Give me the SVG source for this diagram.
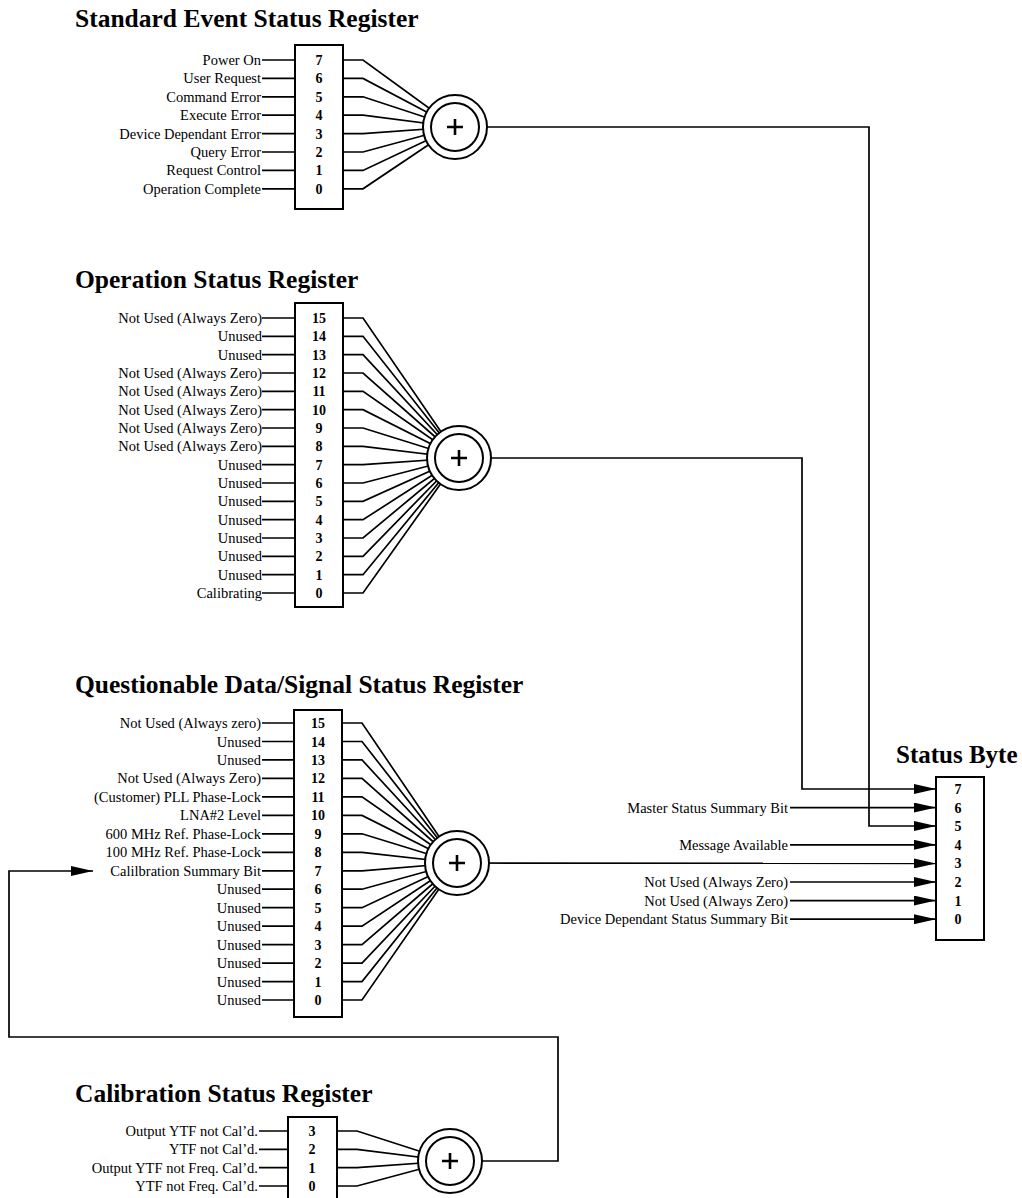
<svg xmlns="http://www.w3.org/2000/svg" width="1022" height="1198" viewBox="0 0 1022 1198">
<style>
.t{font-family:"Liberation Serif","Times New Roman",serif;font-weight:bold;font-size:25.5px;fill:#000}
.l{font-family:"Liberation Serif","Times New Roman",serif;font-size:14.5px;fill:#000;text-anchor:end}
.n{font-family:"Liberation Serif","Times New Roman",serif;font-weight:bold;font-size:14px;fill:#000;text-anchor:middle}
.b{fill:#fff;stroke:#000;stroke-width:2}
.w{fill:none;stroke:#000;stroke-width:1.7}
.c{fill:#fff;stroke:#000;stroke-width:2}
.p{fill:none;stroke:#000;stroke-width:2.6}
</style>
<defs>
<marker id="ah" viewBox="0 0 22 10" refX="22" refY="5" markerWidth="22" markerHeight="10" markerUnits="userSpaceOnUse" orient="auto"><path d="M0,0 L22,5 L0,10 Z" fill="#000"/></marker>
</defs>

<g id="connectors" class="w">
<polyline points="455,127 869,127 869,826 936,826" marker-end="url(#ah)"/>
<polyline points="459,458 802,458 802,789 936,789" marker-end="url(#ah)"/>
<polyline points="457,863 936,863.4" marker-end="url(#ah)"/>
<polyline points="450,1161 558,1161 558,1037 9,1037 9,871 93,871" marker-end="url(#ah)"/>
<line x1="790" y1="807.6" x2="936" y2="807.6" marker-end="url(#ah)"/>
<line x1="790" y1="844.8" x2="936" y2="844.8" marker-end="url(#ah)"/>
<line x1="790" y1="882" x2="936" y2="882" marker-end="url(#ah)"/>
<line x1="790" y1="900.6" x2="936" y2="900.6" marker-end="url(#ah)"/>
<line x1="790" y1="919.2" x2="936" y2="919.2" marker-end="url(#ah)"/>
</g>

<g id="standard-event-register">
<text class="t" x="75" y="27">Standard Event Status Register</text>
<g class="w">
<path d="M262,60H295M262,78.4H295M262,96.8H295M262,115.2H295M262,133.6H295M262,152H295M262,170.4H295M262,188.8H295"/>
<path d="M343,60H363L455,127M343,78.4H363L455,127M343,96.8H363L455,127M343,115.2H363L455,127M343,133.6H363L455,127M343,152H363L455,127M343,170.4H363L455,127M343,188.8H363L455,127"/>
</g>
<rect class="b" x="295" y="45" width="48" height="164"/>
<g class="l">
<text x="261" y="65">Power On</text>
<text x="261" y="83.4">User Request</text>
<text x="261" y="101.8">Command Error</text>
<text x="261" y="120.2">Execute Error</text>
<text x="261" y="138.6">Device Dependant Error</text>
<text x="261" y="157">Query Error</text>
<text x="261" y="175.4">Request Control</text>
<text x="261" y="193.8">Operation Complete</text>
</g>
<g class="n">
<text x="319" y="65">7</text><text x="319" y="83.4">6</text><text x="319" y="101.8">5</text><text x="319" y="120.2">4</text>
<text x="319" y="138.6">3</text><text x="319" y="157">2</text><text x="319" y="175.4">1</text><text x="319" y="193.8">0</text>
</g>
</g>
<g id="standard-event-or">
<circle class="c" cx="455" cy="127" r="32"/>
<circle class="c" cx="455" cy="127" r="24"/>
<path class="p" d="M447,127H463M455,119V135"/>
</g>

<g id="operation-register">
<text class="t" x="75" y="288">Operation Status Register</text>
<g class="w">
<path d="M262,318H295M262,336.3H295M262,354.7H295M262,373H295M262,391.3H295M262,409.7H295M262,428H295M262,446.3H295M262,464.7H295M262,483H295M262,501.3H295M262,519.7H295M262,538H295M262,556.3H295M262,574.7H295M262,593H295"/>
<path d="M343,318H363L459,458M343,336.3H363L459,458M343,354.7H363L459,458M343,373H363L459,458M343,391.3H363L459,458M343,409.7H363L459,458M343,428H363L459,458M343,446.3H363L459,458M343,464.7H363L459,458M343,483H363L459,458M343,501.3H363L459,458M343,519.7H363L459,458M343,538H363L459,458M343,556.3H363L459,458M343,574.7H363L459,458M343,593H363L459,458"/>
</g>
<rect class="b" x="295" y="303" width="48" height="304"/>
<g class="l">
<text x="262" y="323">Not Used (Always Zero)</text>
<text x="262" y="341.3">Unused</text>
<text x="262" y="359.7">Unused</text>
<text x="262" y="378">Not Used (Always Zero)</text>
<text x="262" y="396.3">Not Used (Always Zero)</text>
<text x="262" y="414.7">Not Used (Always Zero)</text>
<text x="262" y="433">Not Used (Always Zero)</text>
<text x="262" y="451.3">Not Used (Always Zero)</text>
<text x="262" y="469.7">Unused</text>
<text x="262" y="488">Unused</text>
<text x="262" y="506.3">Unused</text>
<text x="262" y="524.7">Unused</text>
<text x="262" y="543">Unused</text>
<text x="262" y="561.3">Unused</text>
<text x="262" y="579.7">Unused</text>
<text x="262" y="598">Calibrating</text>
</g>
<g class="n">
<text x="319" y="323">15</text><text x="319" y="341.3">14</text><text x="319" y="359.7">13</text><text x="319" y="378">12</text>
<text x="319" y="396.3">11</text><text x="319" y="414.7">10</text><text x="319" y="433">9</text><text x="319" y="451.3">8</text>
<text x="319" y="469.7">7</text><text x="319" y="488">6</text><text x="319" y="506.3">5</text><text x="319" y="524.7">4</text>
<text x="319" y="543">3</text><text x="319" y="561.3">2</text><text x="319" y="579.7">1</text><text x="319" y="598">0</text>
</g>
</g>
<g id="operation-or">
<circle class="c" cx="459" cy="458" r="32"/>
<circle class="c" cx="459" cy="458" r="24"/>
<path class="p" d="M451,458H467M459,450V466"/>
</g>

<g id="questionable-register">
<text class="t" x="75" y="693">Questionable Data/Signal Status Register</text>
<g class="w">
<path d="M262,723H294M262,741.5H294M262,759.9H294M262,778.4H294M262,796.9H294M262,815.4H294M262,833.8H294M262,852.3H294M262,870.8H294M262,889.2H294M262,907.7H294M262,926.2H294M262,944.6H294M262,963.1H294M262,981.6H294M262,1000H294"/>
<path d="M342,723H362L457,863M342,741.5H362L457,863M342,759.9H362L457,863M342,778.4H362L457,863M342,796.9H362L457,863M342,815.4H362L457,863M342,833.8H362L457,863M342,852.3H362L457,863M342,870.8H362L457,863M342,889.2H362L457,863M342,907.7H362L457,863M342,926.2H362L457,863M342,944.6H362L457,863M342,963.1H362L457,863M342,981.6H362L457,863M342,1000H362L457,863"/>
</g>
<rect class="b" x="294" y="710" width="48" height="307"/>
<g class="l">
<text x="261" y="728">Not Used (Always zero)</text>
<text x="261" y="746.5">Unused</text>
<text x="261" y="764.9">Unused</text>
<text x="261" y="783.4">Not Used (Always Zero)</text>
<text x="261" y="801.9">(Customer) PLL Phase-Lock</text>
<text x="261" y="820.4">LNA#2 Level</text>
<text x="261" y="838.8">600 MHz Ref. Phase-Lock</text>
<text x="261" y="857.3">100 MHz Ref. Phase-Lock</text>
<text x="261" y="875.8">Calilbration Summary Bit</text>
<text x="261" y="894.2">Unused</text>
<text x="261" y="912.7">Unused</text>
<text x="261" y="931.2">Unused</text>
<text x="261" y="949.6">Unused</text>
<text x="261" y="968.1">Unused</text>
<text x="261" y="986.6">Unused</text>
<text x="261" y="1005">Unused</text>
</g>
<g class="n">
<text x="318" y="728">15</text><text x="318" y="746.5">14</text><text x="318" y="764.9">13</text><text x="318" y="783.4">12</text>
<text x="318" y="801.9">11</text><text x="318" y="820.4">10</text><text x="318" y="838.8">9</text><text x="318" y="857.3">8</text>
<text x="318" y="875.8">7</text><text x="318" y="894.2">6</text><text x="318" y="912.7">5</text><text x="318" y="931.2">4</text>
<text x="318" y="949.6">3</text><text x="318" y="968.1">2</text><text x="318" y="986.6">1</text><text x="318" y="1005">0</text>
</g>
</g>
<g id="questionable-or">
<circle class="c" cx="457" cy="863" r="32"/>
<circle class="c" cx="457" cy="863" r="24"/>
<path class="p" d="M449,863H465M457,855V871"/>
</g>

<g id="calibration-register">
<text class="t" x="75" y="1102">Calibration Status Register</text>
<g class="w">
<path d="M259,1131H288M259,1149.3H288M259,1167.6H288M259,1186H288"/>
<path d="M337,1131H357L450,1161M337,1149.3H357L450,1161M337,1167.6H357L450,1161M337,1186H357L450,1161"/>
</g>
<rect class="b" x="288" y="1117" width="49" height="90"/>
<g class="l">
<text x="258" y="1136">Output YTF not Cal’d.</text>
<text x="258" y="1154.3">YTF not Cal’d.</text>
<text x="258" y="1172.6">Output YTF not Freq. Cal’d.</text>
<text x="258" y="1191">YTF not Freq. Cal’d.</text>
</g>
<g class="n">
<text x="312" y="1136">3</text><text x="312" y="1154.3">2</text><text x="312" y="1172.6">1</text><text x="312" y="1191">0</text>
</g>
</g>
<g id="calibration-or">
<circle class="c" cx="450" cy="1161" r="32"/>
<circle class="c" cx="450" cy="1161" r="24"/>
<path class="p" d="M442,1161H458M450,1153V1169"/>
</g>

<g id="status-byte">
<text class="t" x="896" y="763" style="font-size:25px">Status Byte</text>
<rect class="b" x="936" y="777" width="48" height="163"/>
<g class="n">
<text x="958" y="794">7</text><text x="958" y="812.6">6</text><text x="958" y="831.2">5</text><text x="958" y="849.8">4</text>
<text x="958" y="868.4">3</text><text x="958" y="887">2</text><text x="958" y="905.6">1</text><text x="958" y="924.2">0</text>
</g>
<g class="l">
<text x="788" y="812.6">Master Status Summary Bit</text>
<text x="788" y="849.8">Message Available</text>
<text x="788" y="887">Not Used (Always Zero)</text>
<text x="788" y="905.6">Not Used (Always Zero)</text>
<text x="788" y="924.2">Device Dependant Status Summary Bit</text>
</g>
</g>
</svg>
